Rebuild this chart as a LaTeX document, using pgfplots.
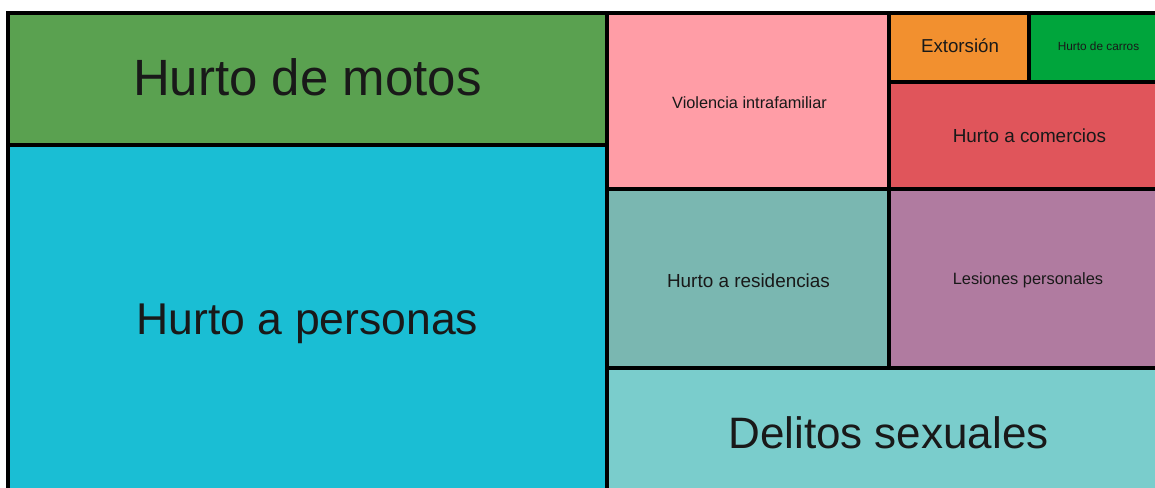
\documentclass[border=0pt]{standalone}
\usepackage{fontspec}
\setmainfont{Liberation Sans}
\usepackage{pgfplots}
\pgfplotsset{compat=1.18}

\definecolor{cMotos}{HTML}{5AA150}
\definecolor{cPersonas}{HTML}{1ABED4}
\definecolor{cViolencia}{HTML}{FF9DA6}
\definecolor{cExtorsion}{HTML}{F2902F}
\definecolor{cCarros}{HTML}{00A53C}
\definecolor{cComercios}{HTML}{E0555B}
\definecolor{cResidencias}{HTML}{7AB7B1}
\definecolor{cLesiones}{HTML}{B07BA0}
\definecolor{cDelitos}{HTML}{7ACDCC}

% treemap cells, in pixel units of the 1155x487 frame (y down)
\newcommand{\cell}[5]{%
  \addplot[fill=#1, draw=black, line width=4.5bp, line join=miter]
    coordinates {(#2,#3) (#4,#3) (#4,#5) (#2,#5)} -- cycle;}
\newcommand{\lab}[4]{%
  \node[anchor=base, text=black!90, inner sep=0pt]
    at (axis cs:#1,#2) {\fontsize{#3bp}{#3bp}\selectfont #4};}

\begin{document}
\begin{tikzpicture}
\begin{axis}[
  name=ax,
  width=1155bp, height=487bp, scale only axis,
  xmin=0, xmax=1155, ymin=0, ymax=487,
  y dir=reverse,
  hide axis, clip=true,
]
\cell{cMotos}{8}{13}{607}{145}
\cell{cPersonas}{8}{145}{607}{493}
\cell{cViolencia}{607}{13}{889}{189}
\cell{cExtorsion}{889}{13}{1029}{82}
\cell{cCarros}{1029}{13}{1169}{82}
\cell{cComercios}{889}{82}{1169}{189}
\cell{cResidencias}{607}{189}{889}{368}
\cell{cLesiones}{889}{189}{1169}{368}
\cell{cDelitos}{607}{368}{1169}{495}

\lab{307.5}{95}{51}{Hurto de motos}
\lab{307.5}{334}{44.5}{Hurto a personas}
\lab{888.5}{448}{44}{Delitos sexuales}
\lab{749.5}{108}{16.3}{Violencia intrafamiliar}
\lab{960}{53}{18.7}{Extorsión}
\lab{1098.5}{51}{11.8}{Hurto de carros}
\lab{1029.5}{142}{18.9}{Hurto a comercios}
\lab{748.5}{287}{18.9}{Hurto a residencias}
\lab{1028}{284}{16.4}{Lesiones personales}
\end{axis}
\pgfresetboundingbox
\path (ax.south west) rectangle (ax.north east);
\end{tikzpicture}
\end{document}
